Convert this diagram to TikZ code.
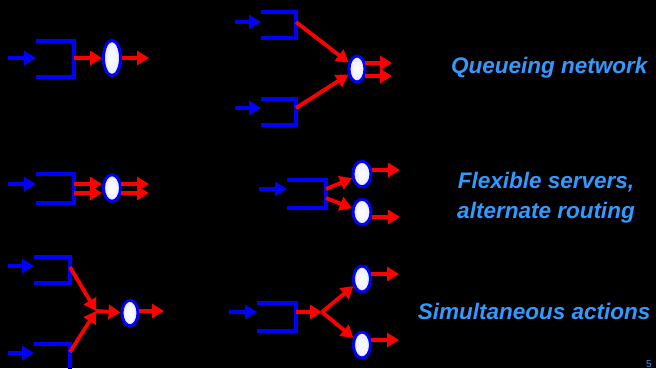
\documentclass[tikz,border=0pt]{standalone}
\usepackage{fontspec}
\setmainfont{Liberation Sans}
\usetikzlibrary{arrows.meta,shapes.geometric}
\definecolor{qblue}{RGB}{0,0,255}
\definecolor{fred}{RGB}{255,0,0}
\definecolor{lbl}{RGB}{51,153,255}

\begin{document}
\begin{tikzpicture}[x=1pt,y=-1pt,
  queue/.style={draw=qblue, line width=3.8pt},
  inarrow/.style={draw=qblue, line width=3.8pt, -{Triangle[length=12pt,width=14pt]}},
  flow/.style={draw=fred, line width=3.8pt, -{Triangle[length=12pt,width=14pt]}},
  server/.style={ellipse, draw=qblue, line width=3pt, inner sep=0pt,
                 inner color=white, outer color=white!92!qblue,
                 minimum width=16pt, minimum height=26pt},
  caption/.style={text=lbl, font=\fontsize{22.5}{30}\selectfont\bfseries\itshape}]

% background and page size
\fill[black] (0,0) rectangle (656,368);
\useasboundingbox (0,0) rectangle (656,368);

% ---- single queue, single server ----
\draw[queue] (36,41) -| (74,77) -- (36,77);
\coordinate (a1in) at (8,58);
\coordinate (a1q) at (36,58);
\coordinate (a1out) at (74,58);
\node[server, minimum width=17pt, minimum height=35pt] (a1s) at (112,58) {};
\coordinate (a1end) at (149,58);
\draw[inarrow] (a1in) -- (a1q);
\draw[flow] (a1out) -- (a1s);
\draw[flow] (a1s) -- (a1end);

% ---- queueing network: two queues feeding one server ----
\draw[queue] (261,12) -| (296,38) -- (261,38);
\draw[queue] (261,99) -| (296,125) -- (261,125);
\coordinate (b1in) at (235,22);  \coordinate (b1q) at (261,22);
\coordinate (b2in) at (235,108); \coordinate (b2q) at (261,108);
\coordinate (b1out) at (296,22);
\coordinate (b2out) at (296,108);
\node[server] (bs) at (357,69) {};
\coordinate (bo1) at (365,63);  \coordinate (be1) at (392,63);
\coordinate (bo2) at (365,76);  \coordinate (be2) at (392,76);
\draw[inarrow] (b1in) -- (b1q);
\draw[inarrow] (b2in) -- (b2q);
\draw[flow] (b1out) -- (bs);
\draw[flow] (b2out) -- (bs);
\draw[flow] (bo1) -- (be1);
\draw[flow] (bo2) -- (be2);

% ---- flexible server: two flows through one server ----
\draw[queue] (36,174) -| (74,203) -- (36,203);
\coordinate (c1in) at (8,184); \coordinate (c1q) at (36,184);
\node[server, minimum width=17pt, minimum height=26.5pt] (cs) at (112,188) {};
\coordinate (co1) at (74,184);  \coordinate (ci1) at (102,184);
\coordinate (co2) at (74,193);  \coordinate (ci2) at (102,193);
\coordinate (cx1) at (121,184); \coordinate (ce1) at (149,184);
\coordinate (cx2) at (121,193); \coordinate (ce2) at (149,193);
\draw[inarrow] (c1in) -- (c1q);
\draw[flow] (co1) -- (ci1);
\draw[flow] (co2) -- (ci2);
\draw[flow] (cx1) -- (ce1);
\draw[flow] (cx2) -- (ce2);

% ---- alternate routing: one queue, two servers ----
\draw[queue] (287,180) -| (326,208) -- (287,208);
\coordinate (d1in) at (259,189); \coordinate (d1q) at (287,189);
\coordinate (do1) at (326,189);
\coordinate (do2) at (326,198);
\node[server, minimum width=18pt, minimum height=25.5pt] (ds1) at (362,174) {};
\node[server, minimum width=18pt, minimum height=25.5pt] (ds2) at (362,212) {};
\coordinate (dx1) at (372,170); \coordinate (de1) at (400,170);
\coordinate (dx2) at (372,217); \coordinate (de2) at (400,217);
\draw[inarrow] (d1in) -- (d1q);
\draw[flow] (do1) -- (ds1);
\draw[flow] (do2) -- (ds2);
\draw[flow] (dx1) -- (de1);
\draw[flow] (dx2) -- (de2);

% ---- simultaneous actions: join ----
\draw[queue] (34,257) -| (70,283) -- (34,283);
\draw[queue] (34,344) -| (70,370);
\coordinate (e1in) at (8,266);  \coordinate (e1q) at (34,266);
\coordinate (e2in) at (8,353);  \coordinate (e2q) at (34,353);
\coordinate (e1out) at (70,267);
\coordinate (e2out) at (70,352);
\coordinate (ej) at (96,311);
\node[server, minimum width=16pt, minimum height=25.5pt] (es) at (130,313) {};
\coordinate (ex) at (139,311); \coordinate (ee) at (164,311);
\draw[inarrow] (e1in) -- (e1q);
\draw[inarrow] (e2in) -- (e2q);
\draw[flow] (e1out) -- (ej);
\draw[flow] (e2out) -- (ej);
\draw[flow] (ej) -- (es);
\draw[flow] (ex) -- (ee);

% ---- simultaneous actions: fork ----
\draw[queue] (257,303) -| (296,331) -- (257,331);
\coordinate (f1in) at (229,312); \coordinate (f1q) at (257,312);
\coordinate (fout) at (296,312);
\coordinate (fj) at (322,312);
\node[server, minimum width=17pt, minimum height=26pt] (fs1) at (362,279) {};
\node[server, minimum width=17pt, minimum height=26pt] (fs2) at (362,345) {};
\coordinate (fx1) at (371,274); \coordinate (fe1) at (399,274);
\coordinate (fx2) at (371,340); \coordinate (fe2) at (399,340);
\draw[inarrow] (f1in) -- (f1q);
\draw[flow] (fout) -- (fj);
\draw[flow] (fj) -- (fs1);
\draw[flow] (fj) -- (fs2);
\draw[flow] (fx1) -- (fe1);
\draw[flow] (fx2) -- (fe2);

% ---- captions ----
\node[caption, anchor=base east] (t1) at (651,73) {Queueing network};
\node[caption, anchor=base] (t2) at (546,188) {Flexible servers,};
\node[caption, anchor=base] (t3) at (546,218) {alternate routing};
\node[caption, anchor=base east] (t4) at (654,319) {Simultaneous actions};
\node[text=lbl, font=\fontsize{10}{12}\selectfont, anchor=base east, inner sep=0pt] (pg) at (652,367) {5};
\end{tikzpicture}
\end{document}
